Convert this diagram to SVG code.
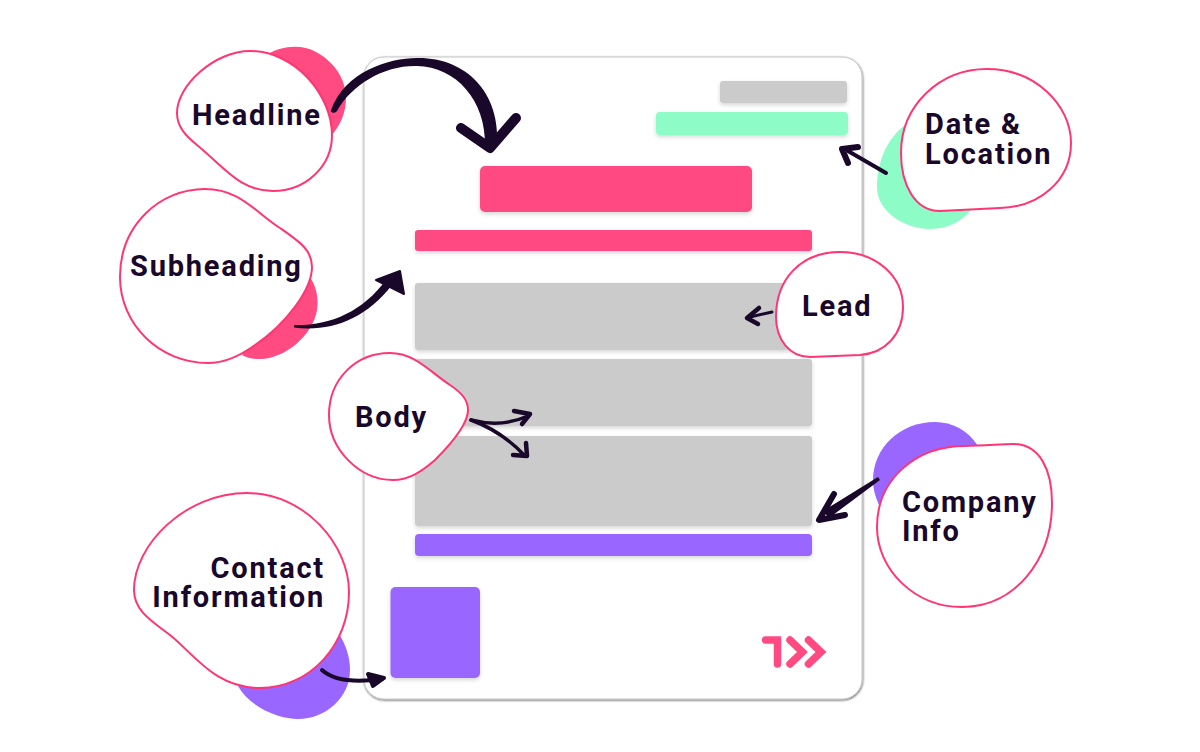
<svg xmlns="http://www.w3.org/2000/svg" width="1200" height="752" viewBox="0 0 1200 752">
<defs>
<filter id="docShadow" x="-5%" y="-5%" width="110%" height="110%"><feDropShadow dx="0.500" dy="1" stdDeviation="1" flood-color="#000" flood-opacity="0.6"/></filter>
<filter id="barShadow" x="-10%" y="-30%" width="120%" height="170%"><feDropShadow dx="0" dy="2" stdDeviation="2" flood-color="#000" flood-opacity="0.16"/></filter>
</defs>
<style>
.blob{fill:#fff;stroke:#ff3574;stroke-width:2}
.bar{filter:url(#barShadow)}
.pink{fill:#ff4a82}.purple{fill:#9966ff}.mint{fill:#8efcc7}.gray{fill:#cbcbcb}
.label{font-family:Roboto,"Liberation Sans",sans-serif;font-weight:700;font-size:29px;letter-spacing:1.800px;fill:#190829}
.end{text-anchor:end}
.shaft{fill:none;stroke:#190829;stroke-linecap:round;stroke-linejoin:round}
.fillhead{fill:#190829;stroke:#190829;stroke-linejoin:round;stroke-width:2}
.logo{fill:none;stroke:#ff4a82;stroke-width:7.500;stroke-linecap:round;stroke-linejoin:miter}
</style>
<rect width="1200" height="752" fill="#fff"/>
<g id="document">
<rect x="364" y="57" width="498" height="642" rx="20" fill="#fff" stroke="#c6c6c6" stroke-width="1" filter="url(#docShadow)"/>
<rect class="bar gray" x="720" y="81" width="127" height="22" rx="3"/>
<rect class="bar mint" x="656" y="112" width="192" height="23" rx="4"/>
<rect class="bar pink" x="480" y="166" width="272" height="46" rx="5"/>
<rect class="bar pink" x="415" y="230" width="397" height="21" rx="3"/>
<rect class="bar gray" x="415" y="283" width="397" height="67" rx="3"/>
<rect class="bar gray" x="415" y="359" width="397" height="67" rx="3"/>
<rect class="bar gray" x="415" y="436" width="397" height="90" rx="3"/>
<rect class="bar purple" x="415" y="534" width="397" height="22" rx="4"/>
<rect class="bar purple" x="390.500" y="587" width="89.500" height="91" rx="5"/>
<g id="logo"><path class="logo" d="M765.500,640H777.500V664"/><path class="logo" d="M790,640L802.500,652L790,664M808.500,640L821,652L808.500,664"/></g>
</g>
<g id="node-headline">
<path class="pink" d="M268,54C280,47 300,43 316,52C335,62 346,80 346,98C346,113 340,126 331,136Z"/>
<path class="blob" d="M177,113C177,85 215,51 250,51C295,51 332,95 332,135C332,167 305,191 273,191C240,191 225,168 197,145C186,136 177,127 177,113Z"/>
<text class="label" x="192" y="125">Headline</text>
</g>
<g id="node-subheading">
<path class="pink" d="M309,276C316,285 319,298 317,310C313,335 285,359 260,359C253,359 247,358 242,355Z"/>
<path class="blob" d="M120,277C120,225 160,189 205,189C240,189 255,212 280,228C300,242 312,250 312,267C312,290 285,325 255,345C240,356 225,363 208,363C160,363 120,325 120,277Z"/>
<text class="label" x="130" y="276">Subheading</text>
</g>
<g id="node-date">
<path class="mint" d="M905,125C885,140 877,165 877,187C877,212 905,229 930,229C950,229 963,220 974,207Z"/>
<path class="blob" d="M901,153C901,105 940,69 987,69C1035,69 1071,105 1071,143C1071,180 1040,207 1000,208L940,211C915,211 901,185 901,153Z"/>
<text class="label" x="925" y="134">Date &amp;</text>
<text class="label" x="925" y="164">Location</text>
</g>
<g id="node-lead">
<path class="blob" d="M776,317C776,280 800,252 840,252C875,252 903,275 903,307C903,335 885,353 860,355L810,357C790,357 776,340 776,317Z"/>
<text class="label" x="802" y="316">Lead</text>
</g>
<g id="node-body">
<path class="blob" d="M329,415C329,380 355,353 390,353C415,353 430,372 450,385C462,393 468,400 468,410C468,425 450,445 435,460C420,473 408,480 393,480C360,480 329,450 329,415Z"/>
<text class="label" x="355" y="427">Body</text>
</g>
<g id="node-contact">
<path class="purple" d="M338,632C346,645 350,657 350,670C350,698 325,719 298,719C280,719 250,708 238,686Z"/>
<path class="blob" d="M134,590C134,545 185,493 247,493C305,493 349,545 349,592C349,645 310,688 260,688C215,688 195,655 170,635C150,620 134,610 134,590Z"/>
<text class="label end" x="325" y="578">Contact</text>
<text class="label end" x="325" y="607">Information</text>
</g>
<g id="node-company">
<path class="purple" d="M978,446C968,430 952,422 935,422C900,422 873,448 873,480C873,490 876,499 880,507Z"/>
<path class="blob" d="M877,527C877,480 915,446 965,446C985,446 1000,444 1013,444C1040,444 1052,470 1052,503C1052,560 1015,607 962,607C915,607 877,570 877,527Z"/>
<text class="label" x="902" y="512">Company</text>
<text class="label" x="902" y="541">Info</text>
</g>
<g id="connectors">
<path fill="#190829" d="M331,110C345,72 388,58 417,58C465,57 501,92 497,146L485,146C486,100 456,67 417,66C385,65 352,84 337,111C335,114 330,113 331,110Z"/>
<path class="shaft" stroke-width="10" d="M461,128L490,148L516,118"/>
<path fill="#190829" d="M294,325C330,326 362,312 386,280L392,285C365,320 330,332 294,327.500Z"/>
<path class="fillhead" d="M376,280L400,271L404,294Z"/>
<path class="shaft" stroke-width="4" d="M886,173L848,151"/>
<path class="shaft" stroke-width="6" d="M858,147L842,149L848,163"/>
<path class="shaft" stroke-width="3" d="M772,312L750,317"/>
<path class="shaft" stroke-width="4.500" d="M759,308L747,318L758,324"/>
<path class="shaft" stroke-width="3.500" d="M471,420C490,425 510,424 528,416"/>
<path class="shaft" stroke-width="4.500" d="M514,411L530,414L522,424"/>
<path class="shaft" stroke-width="3.500" d="M471,420C490,427 510,440 524,455"/>
<path class="shaft" stroke-width="4.500" d="M526,443L527,456L513,455"/>
<path class="shaft" stroke-width="4" d="M322,670C335,682 360,682 382,679"/>
<path class="fillhead" d="M368,674L384,678L373,686Z" style="stroke-width:4"/>
<path fill="#190829" d="M878,477L880,480L829,518L823,511Z"/>
<path class="shaft" stroke-width="6" d="M834,494L819,520L845,515"/>
</g>
</svg>
